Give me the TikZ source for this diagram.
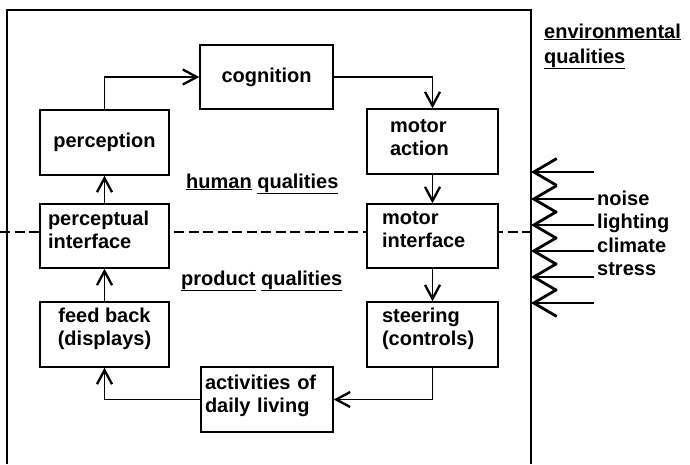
\documentclass[tikz,border=0pt]{standalone}
\usepackage{fontspec}
\setmainfont{Liberation Sans}
\usetikzlibrary{arrows.meta}
\newcommand{\dropby}[1]{\rule[-#1pt]{0pt}{0pt}}
\tikzset{
  box/.style={draw, line width=1.5pt, fill=white, minimum width=#1, minimum height=64pt, inner sep=0pt,
    font=\bfseries\fontsize{20}{22.5}\selectfont},
  box/.default=130pt,
  conn/.style={line width=1.2pt, -{Straight Barb[length=14pt,width=15pt,line width=2.3pt]}},
  envarrow/.style={line width=1.5pt, -{Straight Barb[length=23pt,width=27pt,line width=2.8pt]}},
  frame/.style={line width=1.8pt},
  divider/.style={line width=1.1pt, dash pattern=on 10pt off 4.5pt},
  lab/.style={font=\bfseries\fontsize{20}{25}\selectfont, inner sep=0pt},
}
\begin{document}
\begin{tikzpicture}[x=1pt,y=-1pt]
\useasboundingbox (0,0) rectangle (690,464);
% frame
\coordinate (fbl) at (7,464);
\coordinate (ftl) at (7,10);
\coordinate (ftr) at (531,10);
\coordinate (fbr) at (531,464);
\draw[frame] (fbl) -- (ftl) -- (ftr) -- (fbr);
% divider
\coordinate (dl) at (0,232);
\coordinate (dr) at (531,232);
\draw[divider] (dl) -- (dr);
% boxes
\node[box=133pt] (cognition) at (266.5,77) {cognition};
\node[box=129pt, minimum height=65pt] (perception) at (104.5,142.5) {perception};
\node[box=129pt, align=left, text width=113pt] (percint) at (104.5,236) {perceptual\\interface\dropby{13}};
\node[box=129pt, minimum height=65pt, align=center] (feedback) at (104.5,334.5) {feed back\\(displays)\dropby{16}};
\node[box=132pt, minimum height=65pt, align=left, text width=124pt] (activities) at (267,399.5) {activities of\\daily living\dropby{12}};
\node[box=131pt, minimum height=65pt, align=left, text width=85pt] (motoraction) at (432.5,141.5) {motor\\action\dropby{8}};
\node[box=131pt, align=left, text width=101pt] (motorint) at (432.5,236) {motor\\interface\dropby{13}};
\node[box=131pt, minimum height=65pt, align=left, text width=101pt] (steering) at (432.5,334.5) {steering\\(controls)\dropby{16}};
% connectors
\draw[conn] (perception.north) |- (cognition.west);
\draw[conn] (cognition.east) -| (motoraction.north);
\draw[conn] (motoraction) -- (motorint);
\draw[conn] (motorint) -- (steering);
\draw[conn] (steering.south) |- (activities.east);
\draw[conn] (activities.west) -| (feedback.south);
\draw[conn] (feedback) -- (percint);
\draw[conn] (percint) -- (perception);
% labels
\node[lab, anchor=base west] (hq) at (186,188) {\underline{human} \underline{qualities}};
\node[lab, anchor=base west] (pq) at (181,285) {\underline{product} \underline{qualities}};
\node[lab, anchor=base west, align=left] (eq) at (544,63) {\underline{environmental}\\\underline{qualities}};
% environmental arrows
\foreach \i/\y in {1/172,2/199,3/225,4/251,5/277,6/303}{
  \coordinate (es\i) at (594,\y);
  \coordinate (ee\i) at (531,\y);
  \draw[envarrow] (es\i) -- (ee\i);
}
\node[lab, anchor=base west] (noise) at (597,205) {noise};
\node[lab, anchor=base west] (lighting) at (597,228) {lighting};
\node[lab, anchor=base west] (climate) at (597,252) {climate};
\node[lab, anchor=base west] (stress) at (597,275) {stress};
\end{tikzpicture}
\end{document}
